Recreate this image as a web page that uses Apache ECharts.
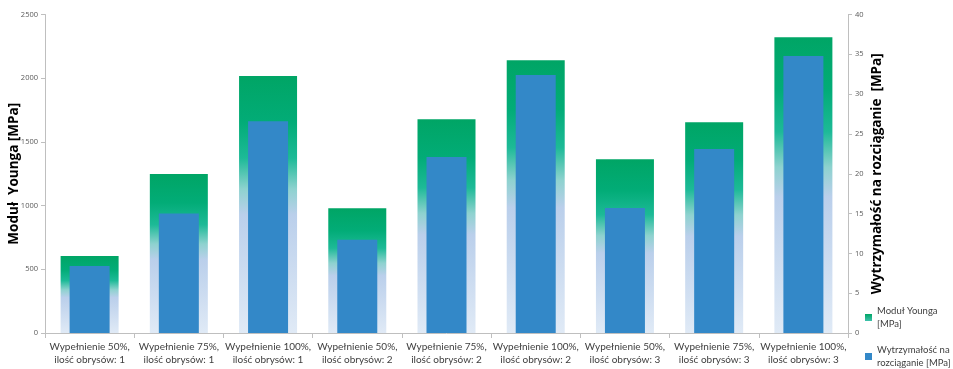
<!DOCTYPE html>
<html>
<head>
<meta charset="utf-8">
<script src="https://cdn.jsdelivr.net/npm/echarts@6/dist/echarts.min.js"></script>
<style>
  html, body { margin: 0; padding: 0; background: #fff; }
  #chart { width: 953px; height: 369px; }
</style>
</head>
<body>
<div id="chart"></div>
<script>
// Próbki: wypełnienie i liczba obrysów
const categories = [
  'Wypełnienie 50%,\nilość obrysów: 1',
  'Wypełnienie 75%,\nilość obrysów: 1',
  'Wypełnienie 100%,\nilość obrysów: 1',
  'Wypełnienie 50%,\nilość obrysów: 2',
  'Wypełnienie 75%,\nilość obrysów: 2',
  'Wypełnienie 100%,\nilość obrysów: 2',
  'Wypełnienie 50%,\nilość obrysów: 3',
  'Wypełnienie 75%,\nilość obrysów: 3',
  'Wypełnienie 100%,\nilość obrysów: 3'
];
// Moduł Younga [MPa] – oś lewa
const youngModulus = [605, 1248, 2018, 979, 1677, 2140, 1363, 1655, 2322];
// Wytrzymałość na rozciąganie [MPa] – oś prawa
const tensileStrength = [8.4, 15.0, 26.6, 11.7, 22.1, 32.4, 15.7, 23.1, 34.8];

const leftTicks = { min: 0, max: 2500, interval: 500 };
const rightTicks = { min: 0, max: 40, interval: 5 };

const youngName = 'Moduł Younga\n[MPa]';
const strengthName = 'Wytrzymałość na\nrozciąganie [MPa]';

const youngGradient = new echarts.graphic.LinearGradient(0, 0, 0, 1, [
  { offset: 0, color: '#00A565' },
  { offset: 0.18, color: '#02AC77' },
  { offset: 0.32, color: '#1DBA97' },
  { offset: 0.44, color: '#8ED2CF' },
  { offset: 0.54, color: '#BACFEB' },
  { offset: 1, color: '#E0EAF6' }
]);

const chart = echarts.init(document.getElementById('chart'), null, { renderer: 'canvas' });

const axisLine = { show: true, lineStyle: { color: '#BFBFBF', width: 1 } };
const axisTick = { show: true, length: 4, lineStyle: { color: '#BFBFBF' } };
const legendText = { fontSize: 9.5, color: '#404040', lineHeight: 12.5, fontFamily: 'Lato, sans-serif' };
const titleFont = { fontSize: 13.5, fontWeight: 'bold', color: '#000', fontFamily: '"Open Sans", sans-serif' };

chart.setOption({
  animation: false,
  backgroundColor: '#ffffff',
  textStyle: { fontFamily: '"Open Sans", "Noto Sans", sans-serif' },
  grid: { left: 45, right: 105, top: 14.5, bottom: 36, containLabel: false, outerBoundsMode: 'none' },
  legend: [
    {
      left: 865, top: 305, padding: 0,
      itemWidth: 7, itemHeight: 7, itemGap: 4,
      textStyle: legendText,
      data: [{ name: youngName, icon: 'rect', itemStyle: { color: new echarts.graphic.LinearGradient(0, 0, 0, 1, [
        { offset: 0, color: '#00A565' }, { offset: 1, color: '#3EC2AC' }]) } }]
    },
    {
      left: 865, top: 344, padding: 0,
      itemWidth: 7, itemHeight: 7, itemGap: 4,
      textStyle: legendText,
      data: [{ name: strengthName, icon: 'rect', itemStyle: { color: '#3388C8' } }]
    }
  ],
  xAxis: [
    {
      type: 'category',
      data: categories,
      boundaryGap: true,
      axisLine: axisLine,
      axisTick: { show: true, length: 5, lineStyle: { color: '#BFBFBF' } },
      axisLabel: {
        interval: 0,
        color: '#404040',
        fontSize: 10,
        lineHeight: 13,
        margin: 7,
        fontFamily: 'Lato, sans-serif'
      }
    },
    {
      type: 'category',
      data: categories,
      position: 'bottom',
      show: false
    }
  ],
  yAxis: [
    {
      type: 'value',
      min: leftTicks.min,
      max: leftTicks.max,
      interval: leftTicks.interval,
      position: 'left',
      name: 'Moduł  Younga [MPa]',
      nameLocation: 'middle',
      nameGap: 24,
      nameMoveOverlap: false,
      nameTextStyle: titleFont,
      axisLine: axisLine,
      axisTick: axisTick,
      splitLine: { show: false },
      axisLabel: { color: '#595959', fontSize: 7.5, margin: 7, formatter: (v) => String(v) }
    },
    {
      type: 'value',
      min: rightTicks.min,
      max: rightTicks.max,
      interval: rightTicks.interval,
      position: 'right',
      name: 'Wytrzymałość na rozciąganie  [MPa]',
      nameLocation: 'middle',
      nameGap: 22,
      nameMoveOverlap: false,
      nameRotate: 90,
      nameTextStyle: titleFont,
      axisLine: axisLine,
      axisTick: axisTick,
      splitLine: { show: false },
      axisLabel: { color: '#595959', fontSize: 7.5, margin: 7, formatter: (v) => String(v) }
    }
  ],
  series: [
    {
      name: youngName,
      type: 'bar',
      xAxisIndex: 0,
      yAxisIndex: 0,
      data: youngModulus,
      barWidth: 58,
      itemStyle: { color: youngGradient }
    },
    {
      name: strengthName,
      type: 'bar',
      xAxisIndex: 1,
      yAxisIndex: 1,
      data: tensileStrength,
      barWidth: 40,
      itemStyle: { color: '#3388C8' }
    }
  ]
});
</script>
</body>
</html>
